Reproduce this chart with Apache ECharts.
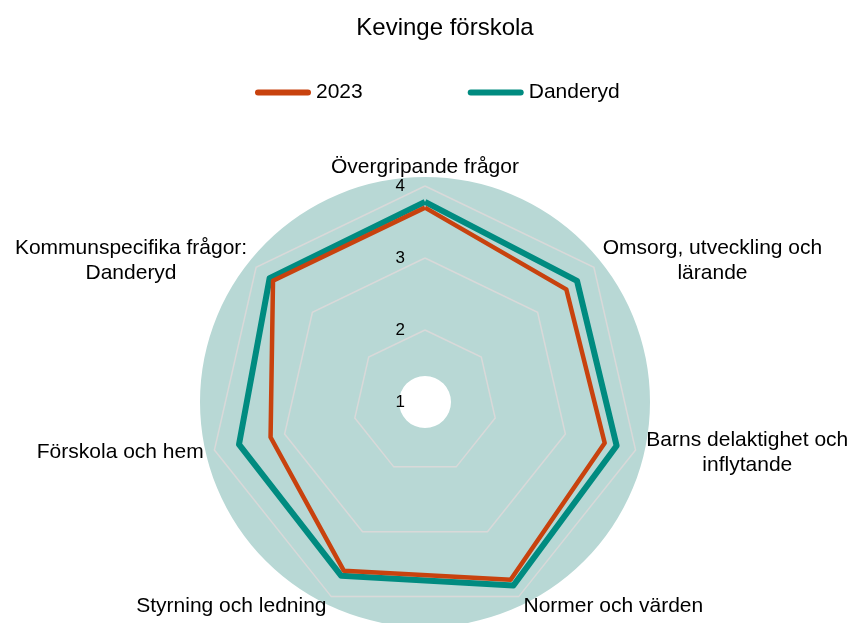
<!DOCTYPE html>
<html>
<head>
<meta charset="utf-8">
<title>Kevinge förskola</title>
<script src="https://cdn.jsdelivr.net/npm/echarts@6/dist/echarts.min.js"></script>
<style>
  html, body { margin: 0; padding: 0; background: #fff; }
  #chart { width: 856px; height: 623px; }
</style>
</head>
<body>
<div id="chart"></div>
<script>
const FONT = '"Liberation Sans", Arial, sans-serif';

// indicators in ECharts radar order (counter-clockwise from the top)
const indicatorNames = [
  "Övergripande frågor",
  "Kommunspecifika frågor:\nDanderyd",
  "Förskola och hem",
  "Styrning och ledning",
  "Normer och värden",
  "Barns delaktighet och\ninflytande",
  "Omsorg, utveckling och\nlärande",
];
const values2023 = [3.70, 3.70, 3.20, 3.60, 3.74, 3.56, 3.51];
const valuesDanderyd = [3.78, 3.76, 3.65, 3.68, 3.83, 3.73, 3.70];
const seriesNames = ["2023", "Danderyd"];
const scaleMin = 1;
const scaleMax = 4;

const colors = { y2023: "#C8420E", danderyd: "#008B80", disc: "#B8D8D5", grid: "#D9D9D9" };

// two-line names get centred lines: a rich token as wide as the longest line
const measure = document.createElement("canvas").getContext("2d");
measure.font = "21px " + FONT;
const rich = {};
const nameText = {};
indicatorNames.forEach((name, i) => {
  const lines = name.split("\n");
  if (lines.length < 2) {
    nameText[name] = name;
    return;
  }
  const key = "l" + i;
  const w = Math.max(...lines.map((l) => measure.measureText(l).width));
  rich[key] = { width: Math.ceil(w), align: "center", fontSize: 21, lineHeight: 25, color: "#000", fontFamily: FONT };
  nameText[name] = lines.map((l) => `{${key}|${l}}`).join("\n");
});

const chart = echarts.init(document.getElementById("chart"), null, { renderer: "canvas" });

const option = {
  animation: false,
  textStyle: { fontFamily: FONT },
  title: {
    text: "Kevinge förskola",
    left: 445,
    top: 16,
    padding: 0,
    textAlign: "center",
    textStyle: { fontSize: 24, fontWeight: "normal", color: "#000", fontFamily: FONT },
  },
  legend: {
    data: seriesNames,
    left: 255,
    top: 82,
    padding: 0,
    itemWidth: 56,
    itemHeight: 6,
    itemGap: 105,
    icon: "path://M3,0 L53,0 A3,3 0 0 1 53,6 L3,6 A3,3 0 0 1 3,0 Z",
    itemStyle: { borderWidth: 0 },
    textStyle: { fontSize: 21, color: "#000", fontFamily: FONT },
    selectedMode: false,
  },
  radar: {
    center: [425, 402],
    radius: 216,
    startAngle: 90,
    splitNumber: 3,
    nameGap: 11,
    axisName: {
      color: "#000",
      fontSize: 21,
      fontFamily: FONT,
      rich: rich,
      formatter: (name) => nameText[name] || name,
    },
    axisLine: { show: false },
    axisTick: { show: false },
    axisLabel: { show: false },
    splitArea: { show: false },
    splitLine: { lineStyle: { color: colors.grid, width: 1.5 } },
    indicator: indicatorNames.map((name, i) => {
      const ind = { name: name, min: scaleMin, max: scaleMax };
      if (i === 0) {
        // value labels only along the top axis
        ind.nameGap = 8;
        ind.axisLabel = { show: true, margin: 20, fontSize: 17, color: "#000", fontFamily: FONT };
      }
      return ind;
    }),
  },
  series: [
    {
      // circular backdrop with the white hole in the middle
      type: "pie",
      silent: true,
      z: -1,
      center: [425, 402],
      radius: [26, 225],
      label: { show: false },
      labelLine: { show: false },
      itemStyle: { color: colors.disc, borderWidth: 0 },
      emphasis: { disabled: true },
      tooltip: { show: false },
      data: [{ value: 1, name: "bakgrund" }],
    },
    {
      type: "radar",
      symbol: "none",
      data: [
        {
          name: seriesNames[1],
          value: valuesDanderyd,
          lineStyle: { color: colors.danderyd, width: 6 },
          itemStyle: { color: colors.danderyd },
        },
        {
          name: seriesNames[0],
          value: values2023,
          lineStyle: { color: colors.y2023, width: 4.5 },
          itemStyle: { color: colors.y2023 },
        },
      ],
    },
  ],
};

chart.setOption(option);
</script>
</body>
</html>
